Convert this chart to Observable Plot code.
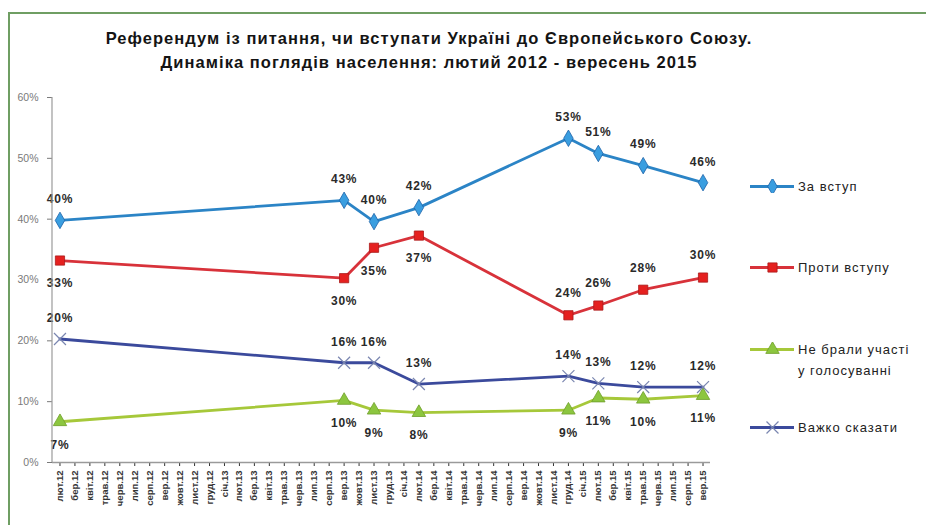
<!DOCTYPE html>
<html><head><meta charset="utf-8">
<script src="https://cdn.jsdelivr.net/npm/d3@7"></script>
<script src="https://cdn.jsdelivr.net/npm/@observablehq/plot@0.6"></script>
<style>
body{margin:0;background:#fff;font-family:"Liberation Sans",Arial,sans-serif;}
#wrap{position:relative;width:926px;height:525px;overflow:hidden;background:#fff;}
#border{position:absolute;left:8px;top:12px;width:960px;height:560px;border:2px solid #6f9e63;box-sizing:border-box;}
#title{position:absolute;left:0;top:26px;width:858px;text-align:center;font-weight:bold;font-size:16.5px;letter-spacing:1.05px;line-height:24px;color:#141414;}
#chart{position:absolute;left:0;top:0;}
.li{position:absolute;left:750px;display:flex;align-items:flex-start;font-size:13px;color:#222;letter-spacing:1px;line-height:21px;}
.li svg{margin-top:3px;margin-right:4px;flex:none;}
</style></head>
<body>
<div id="wrap">
  <div id="border"></div>
  <div id="title">Референдум із питання, чи вступати Україні до Європейського Союзу.<br>Динаміка поглядів населення: лютий 2012 - вересень 2015</div>
  <div id="chart"></div>
  <div id="legend"></div>
</div>
<script>
// Month categories of the x axis
const months = [
  "лют.12","бер.12","квіт.12","трав.12","черв.12","лип.12","серп.12","вер.12","жовт.12","лист.12","груд.12",
  "січ.13","лют.13","бер.13","квіт.13","трав.13","черв.13","лип.13","серп.13","вер.13","жовт.13","лист.13","груд.13",
  "січ.14","лют.14","бер.14","квіт.14","трав.14","черв.14","лип.14","серп.14","вер.14","жовт.14","лист.14","груд.14",
  "січ.15","лют.15","бер.15","квіт.15","трав.15","черв.15","лип.15","серп.15","вер.15"
];
// Survey months
const surveys = ["лют.12","вер.13","лист.13","лют.14","груд.14","лют.15","трав.15","вер.15"];
// Series values (%)
const zaVstup   = [39.8, 43.1, 39.6, 41.9, 53.3, 50.8, 48.8, 46.0];
const protyVstupu = [33.2, 30.3, 35.3, 37.3, 24.2, 25.8, 28.4, 30.4];
const neBraly   = [6.7, 10.2, 8.6, 8.2, 8.6, 10.6, 10.4, 11.0];
const vazhko    = [20.3, 16.4, 16.4, 12.9, 14.2, 13.0, 12.4, 12.4];
const seriesNames = ["За вступ","Проти вступу","Не брали участі у голосуванні","Важко сказати"];
const yTicks = [0,10,20,30,40,50,60];

const seriesVals = [zaVstup, protyVstupu, neBraly, vazhko];
const styles = [
  {line:"#2b84c6", fill:"#3a9ee0", stroke:"#1d62a8", symbol:"diamond", r:5},
  {line:"#d8323a", fill:"#e5201f", stroke:"#a91a1a", symbol:"square", r:5.2},
  {line:"#a6c83a", fill:"#8cc63f", stroke:"#6f9e2a", symbol:"triangle", r:5},
  {line:"#3b4a9c", fill:"none", stroke:"#7a86b0", symbol:"times", r:5.5}
];
const data = [];
seriesVals.forEach((arr, s) => arr.forEach((v, i) => data.push({s, i, month: surveys[i], v})));

const lineMarks = styles.map((st, s) =>
  Plot.line(data.filter(d => d.s === s), {x:"month", y:"v", stroke:st.line, strokeWidth:2.8}));
const dotMarks = styles.map((st, s) =>
  Plot.dot(data.filter(d => d.s === s), {x:"month", y:"v", symbol:st.symbol, r:st.r,
    fill: st.fill === "none" ? undefined : st.fill, stroke:st.stroke, strokeWidth: st.fill === "none" ? 1.2 : 0.8}));
const lbl = d => Math.round(d.v) + "%";
const txt = {x:"month", y:"v", text:lbl, fontSize:12, fill:"#2a2a2a", fontWeight:"bold"};
const textMarks = [
  Plot.text(data.filter(d => d.s === 0), {...txt, dy:-21}),
  Plot.text(data.filter(d => d.s === 1 && d.i < 4), {...txt, dy:23}),
  Plot.text(data.filter(d => d.s === 1 && d.i >= 4), {...txt, dy:-22}),
  Plot.text(data.filter(d => d.s === 2), {...txt, dy:23}),
  Plot.text(data.filter(d => d.s === 3), {...txt, dy:-21})
];

const plot = Plot.plot({
  width:926, height:525,
  marginLeft:52, marginRight:216, marginTop:97, marginBottom:63,
  style:{background:"transparent", fontFamily:"Liberation Sans, Arial, sans-serif", overflow:"visible"},
  x:{type:"point", domain:months, padding:0.5, label:null},
  y:{domain:[0,60], label:null},
  marks:[
    Plot.axisY({ticks:yTicks, tickFormat:d => d + "%", tickSize:5, tickPadding:9, fontSize:10.5, color:"#7a7a7a"}),
    Plot.axisX({tickRotate:-90, tickSize:4, tickPadding:4, fontSize:9.5, color:"#333", fontWeight:"bold"}),
    Plot.ruleY([0], {stroke:"#9a9a9a", strokeWidth:1.5}),
    ...lineMarks, ...dotMarks, ...textMarks
  ]
});
const ys = plot.scale("y");
d3.select(plot).append("line")
  .attr("x1", 52).attr("x2", 52)
  .attr("y1", ys.apply(0)).attr("y2", ys.apply(60))
  .attr("stroke", "#9a9a9a").attr("stroke-width", 1.2);
d3.select(plot).selectAll("g[aria-label='text'] text").style("letter-spacing", "0.8px");
document.getElementById("chart").appendChild(plot);

// Legend
const legendTops = [176, 257, 339, 417];
const leg = document.getElementById("legend");
seriesNames.forEach((name, s) => {
  const st = styles[s];
  const div = document.createElement("div");
  div.className = "li";
  div.style.top = legendTops[s] + "px";
  const sym = Plot.plot({
    width:44, height:14, margin:0, axis:null,
    x:{domain:[0,1]}, y:{domain:[0,1]},
    style:{background:"transparent"},
    marks:[
      Plot.ruleY([0.5], {stroke:st.line, strokeWidth:2.8}),
      Plot.dot([0.5], {x:d => d, y:0.5, symbol:st.symbol, r:st.r,
        fill: st.fill === "none" ? undefined : st.fill, stroke:st.stroke, strokeWidth: st.fill === "none" ? 1.2 : 0.8})
    ]
  });
  div.appendChild(sym);
  const t = document.createElement("span");
  t.innerHTML = s === 2 ? "Не брали участі<br>у голосуванні" : name;
  div.appendChild(t);
  leg.appendChild(div);
});
</script>
</body></html>
